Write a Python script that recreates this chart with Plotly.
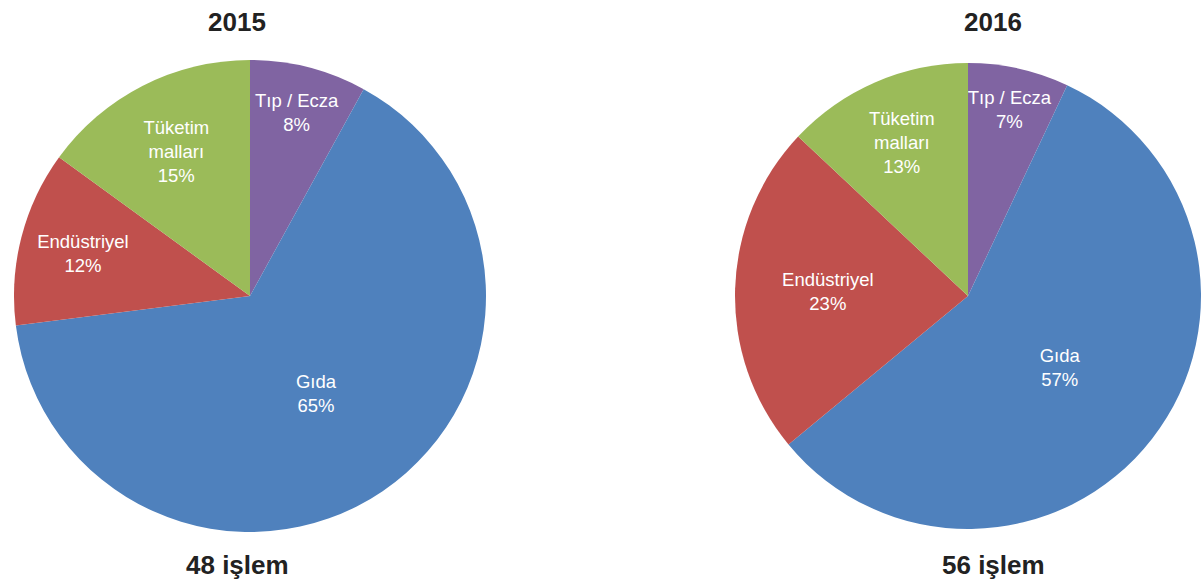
import plotly.graph_objects as go

categories = ["Tıp / Ecza", "Gıda", "Endüstriyel", "Tüketim<br>malları"]
values_2015 = [8, 65, 12, 15]
values_2016 = [7, 57, 23, 13]
colors = ["#8064A2", "#4F81BD", "#C0504D", "#9BBB59"]
titles = ["2015", "2016"]
subtitles = ["48 işlem", "56 işlem"]

W, H = 1201, 580

fig = go.Figure()
common = dict(
    labels=categories,
    sort=False,
    direction="clockwise",
    rotation=0,
    marker=dict(colors=colors, line=dict(width=0)),
    texttemplate="%{label}<br>%{value}%",
    textposition="inside",
    insidetextorientation="horizontal",
    insidetextfont=dict(family="Liberation Sans, Arial, sans-serif", size=18.5, color="white"),
    showlegend=False,
    hoverinfo="label+value",
)
fig.add_trace(go.Pie(values=values_2015,
                     domain=dict(x=[14 / W, 486 / W], y=[(H - 532) / H, (H - 60) / H]),
                     **common))
fig.add_trace(go.Pie(values=values_2016,
                     domain=dict(x=[735 / W, 1.0], y=[(H - 529) / H, (H - 63) / H]),
                     **common))

title_font = dict(family="Liberation Sans, Arial, sans-serif", size=26, color="#222222")
xs = [237 / W, 993 / W]
for x, t, s in zip(xs, titles, subtitles):
    fig.add_annotation(x=x, y=1 - 22 / H, xref="paper", yref="paper", text="<b>%s</b>" % t,
                       showarrow=False, font=title_font, xanchor="center", yanchor="middle")
    fig.add_annotation(x=x, y=1 - 565 / H, xref="paper", yref="paper", text="<b>%s</b>" % s,
                       showarrow=False, font=title_font, xanchor="center", yanchor="middle")

fig.update_layout(
    width=W, height=H,
    margin=dict(l=0, r=0, t=0, b=0),
    paper_bgcolor="white",
    plot_bgcolor="white",
    uniformtext=dict(minsize=18.5, mode="show"),
)
fig.write_html("out.html",
               config={"displayModeBar": False},
               post_script="document.body.style.margin='0px';document.body.style.overflow='hidden';")
